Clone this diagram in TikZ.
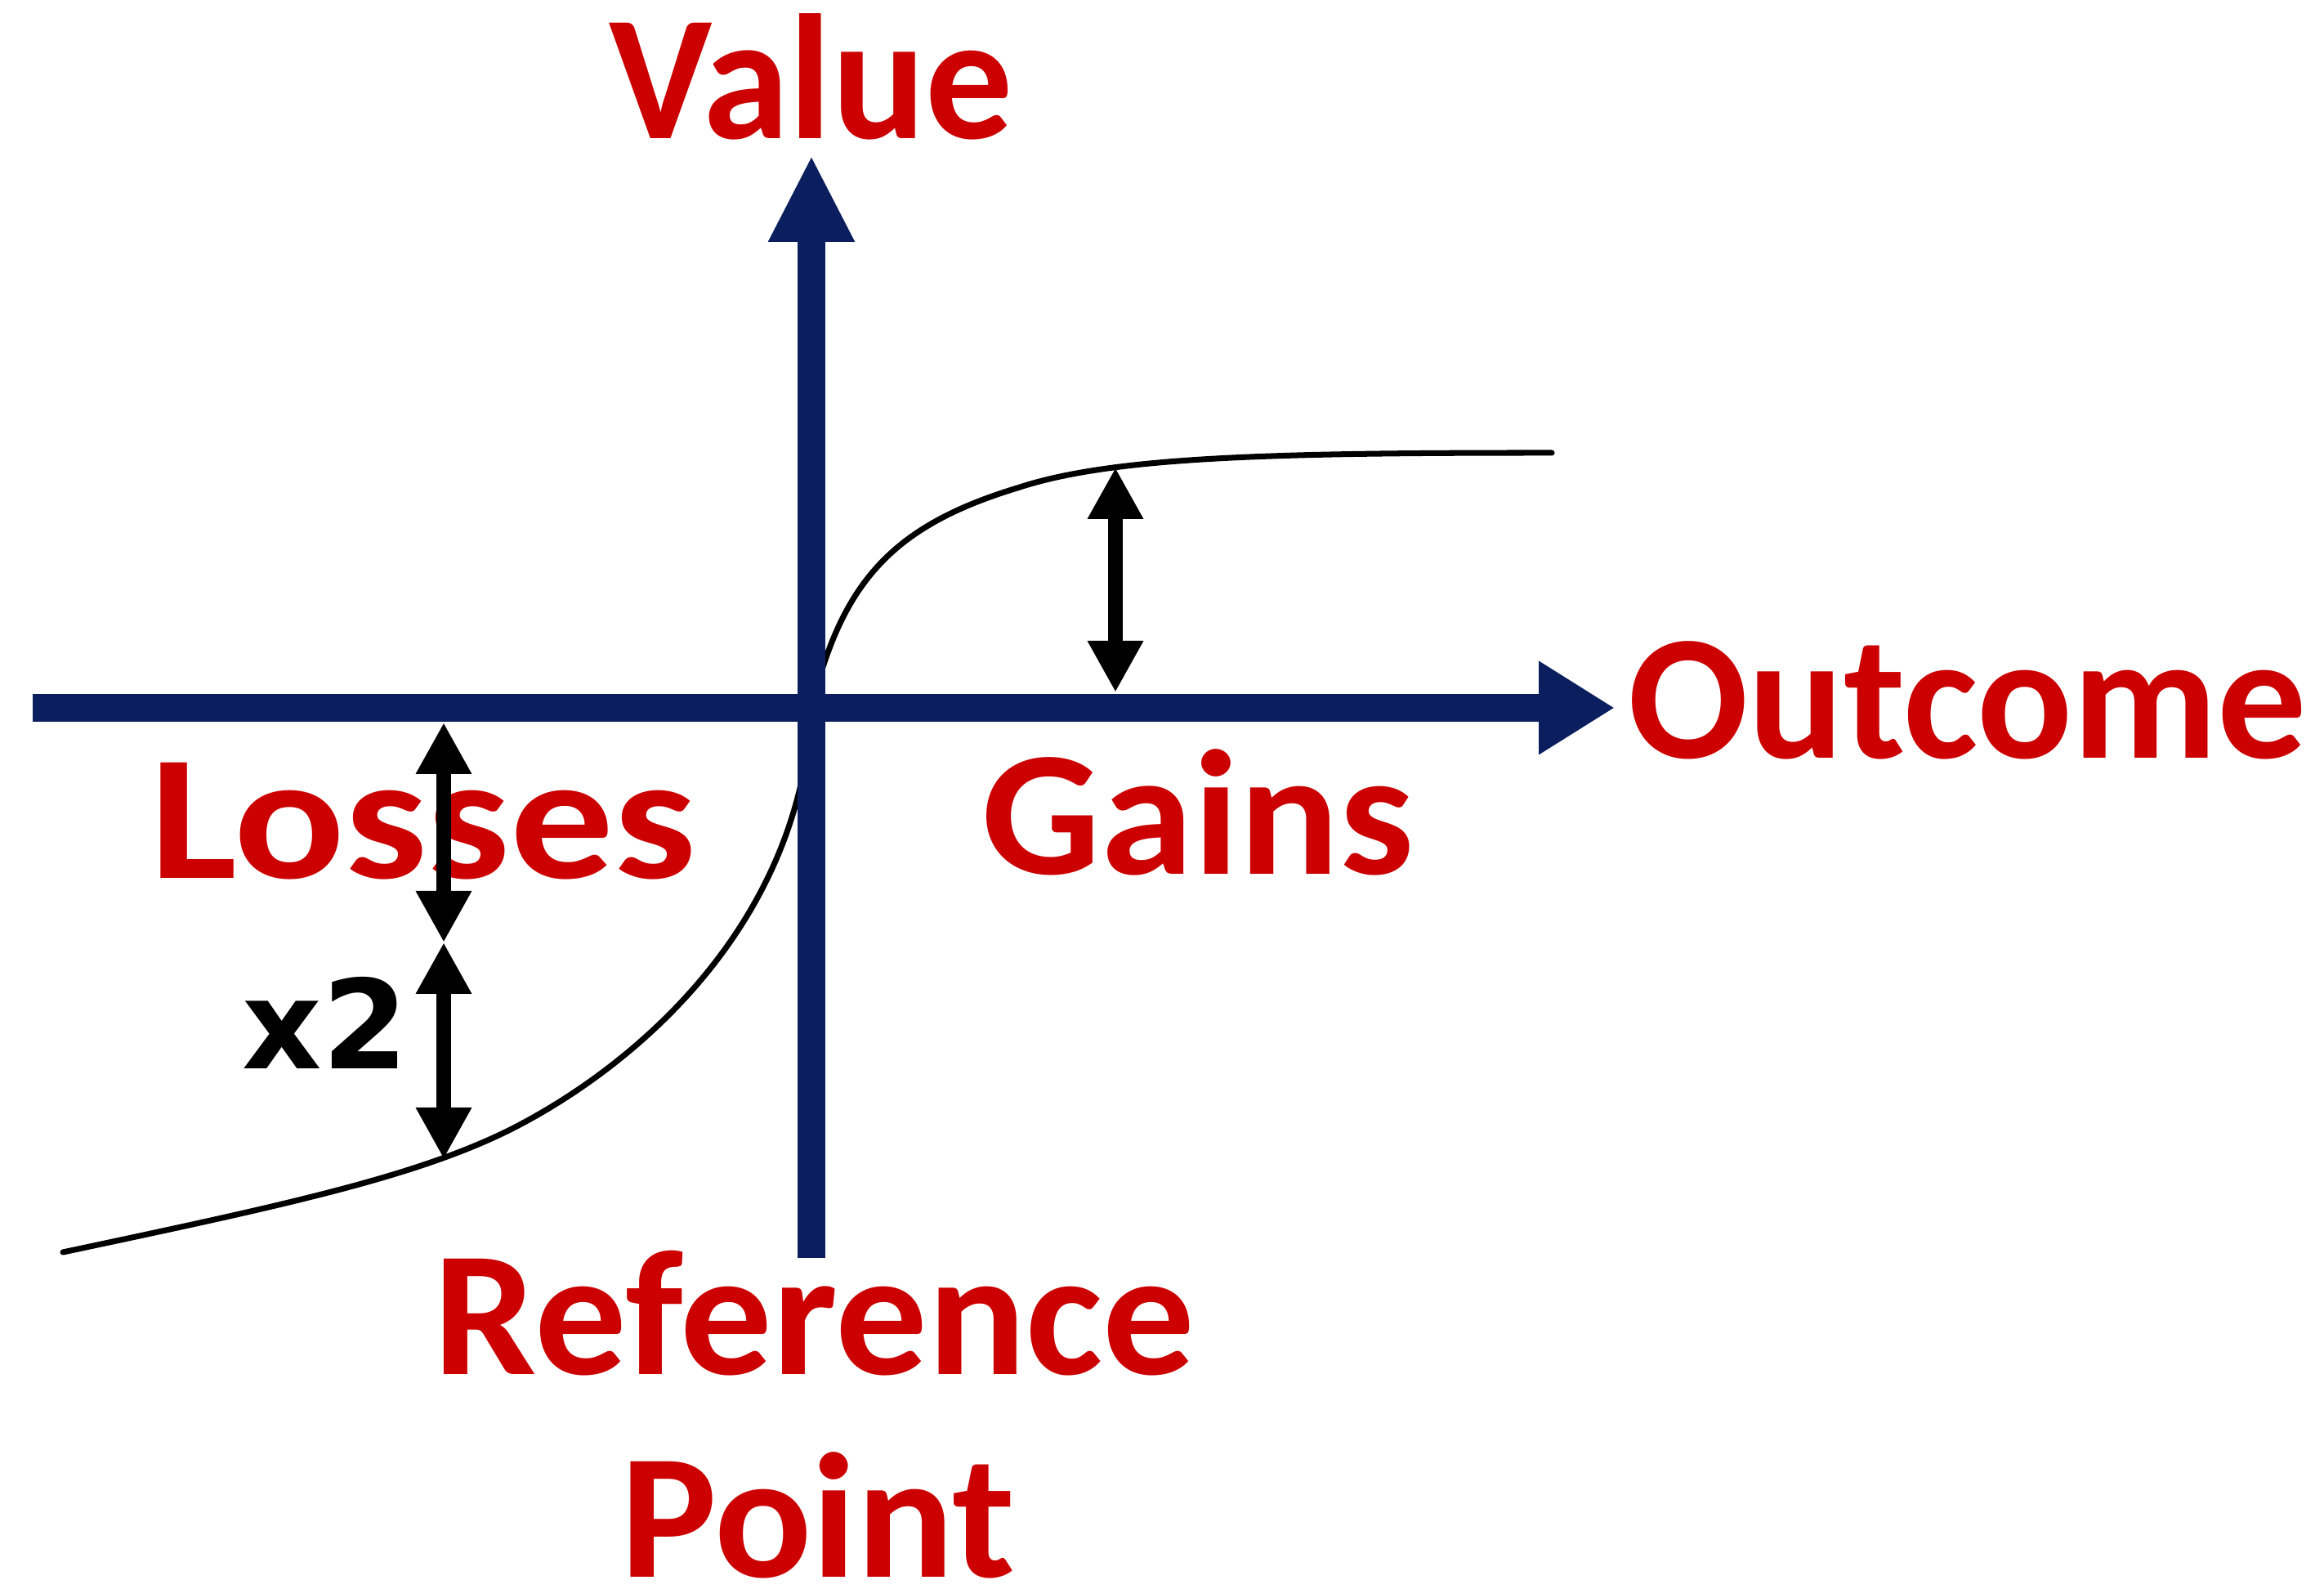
\documentclass[tikz,border=0pt]{standalone}
\usepackage{fontspec}
\newfontfamily\carlito{Carlito}
\newfontfamily\dejavu{DejaVu Sans}
\usetikzlibrary{arrows.meta, positioning}
\definecolor{cnavy}{HTML}{0B1F5E}
\definecolor{cred}{HTML}{CC0000}
\newcommand{\widen}[2]{\scalebox{#1}[1]{#2}}
\tikzset{
  axis/.style={draw=cnavy, line width=0.34cm},
  gap/.style={{Triangle[length=0.63cm, width=0.64cm]}-{Triangle[length=0.63cm, width=0.64cm]}, line width=0.18cm},
  lbl/.style={font=\carlito\bfseries\fontsize{62}{68}\selectfont, text=cred, inner sep=0pt, anchor=base},
  factor/.style={font=\dejavu\bfseries\fontsize{43}{48}\selectfont, inner sep=0pt, anchor=base},
}

\begin{document}
\begin{tikzpicture}
  \useasboundingbox (0,0) rectangle (28.44,19.44);
  % axes end points
  \coordinate (o) at (9.93,10.78);
  \coordinate (xl) at (0.40,10.78);
  \coordinate (xr) at (19.76,10.78);
  \coordinate (yb) at (9.93,4.05);
  \coordinate (yt) at (9.93,17.54);
  % value curve
  \draw[line width=2pt, line cap=round]
    (0.77,4.12) .. controls (3.5,4.7) and (5.2,5.06) .. (6.38,5.69)
    .. controls (7.9,6.5) and (9.8,8.2) .. (o)
    .. controls (10.3,12.3) and (10.9,13.0) .. (12.45,13.47)
    .. controls (13.6,13.85) and (15.5,13.90) .. (18.99,13.90);
  \draw[axis, -{Triangle[length=0.93cm, width=1.08cm]}] (xl) -- (xr);
  \draw[axis, -{Triangle[length=1.06cm, width=0.98cm]}] (yb) -- (yt);
  % gaps
  \coordinate (gtop) at (13.65,13.72);
  \coordinate (gbot) at (13.65,10.97);
  \coordinate (ltop) at (5.43,10.60);
  \coordinate (lmid) at (5.43,7.91);
  \coordinate (lbot) at (5.43,5.26);
  \draw[gap] (gtop) -- (gbot);
  % labels
  \node[lbl] (value) at (9.93,17.74) {\widen{0.98}{Value}};
  \node[lbl] (outcome) at (24.08,10.16) {Outcome};
  \node[lbl] (losses) at (5.18,8.69) {\widen{1.16}{Losses}};
  \node[lbl] (gains) at (14.66,8.74) {\widen{1.05}{Gains}};
  \node[lbl] (ref) at (9.97,2.62) {\widen{1.03}{Reference}};
  \node[lbl] (point) at (10.01,0.14) {\widen{1.02}{Point}};
  \node[factor] (x2) at (3.98,6.36) {x2};
  \draw[gap] (ltop) -- (lmid);
  \draw[gap] (lmid) -- (lbot);
\end{tikzpicture}
\end{document}
